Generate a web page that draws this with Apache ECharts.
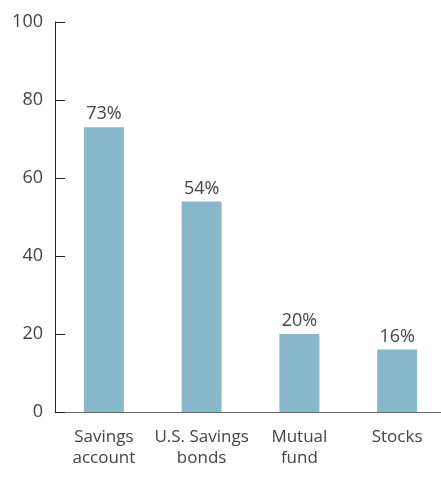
<!DOCTYPE html>
<html>
<head>
<meta charset="utf-8">
<script src="https://cdn.jsdelivr.net/npm/echarts@6/dist/echarts.min.js"></script>
<style>
html,body{margin:0;padding:0;background:#fff;}
#chart{width:441px;height:478px;}
</style>
</head>
<body>
<div id="chart"></div>
<script>
var categories = ['Savings\naccount', 'U.S. Savings\nbonds', 'Mutual\nfund', 'Stocks'];
var values = [73, 54, 20, 16];
var yTicks = [0, 20, 40, 60, 80, 100];

var FONT = '"Open Sans", "Noto Sans", sans-serif';
var chart = echarts.init(document.getElementById('chart'));
var option = {
	animation: false,
	// grid runs past the right edge so the bars sit where the original has them
	grid: {left: 55, width: 391, top: 22, bottom: 66, outerBoundsMode: 'none'},
	xAxis: {
		type: 'category',
		data: categories,
		axisLine: {lineStyle: {color: '#6b6b6b', width: 1}},
		axisTick: {show: false},
		axisLabel: {
			interval: 0,
			color: '#444',
			fontFamily: FONT,
			fontSize: 17,
			lineHeight: 21,
			margin: 15
		}
	},
	yAxis: {
		type: 'value',
		min: yTicks[0],
		max: yTicks[yTicks.length - 1],
		interval: 20,
		splitLine: {show: false},
		axisLine: {show: true, lineStyle: {color: '#222', width: 1}},
		axisTick: {show: true, inside: true, length: 10, lineStyle: {color: '#222'}},
		axisLabel: {color: '#444', fontFamily: FONT, fontSize: 18, margin: 12}
	},
	series: [{
		type: 'bar',
		data: values,
		barWidth: 40,
		itemStyle: {color: '#8ab8cb'},
		label: {
			show: true,
			position: 'top',
			distance: 4,
			formatter: '{c}%',
			color: '#444',
			fontFamily: FONT,
			fontSize: 18
		}
	}]
};
chart.setOption(option);
</script>
</body>
</html>
